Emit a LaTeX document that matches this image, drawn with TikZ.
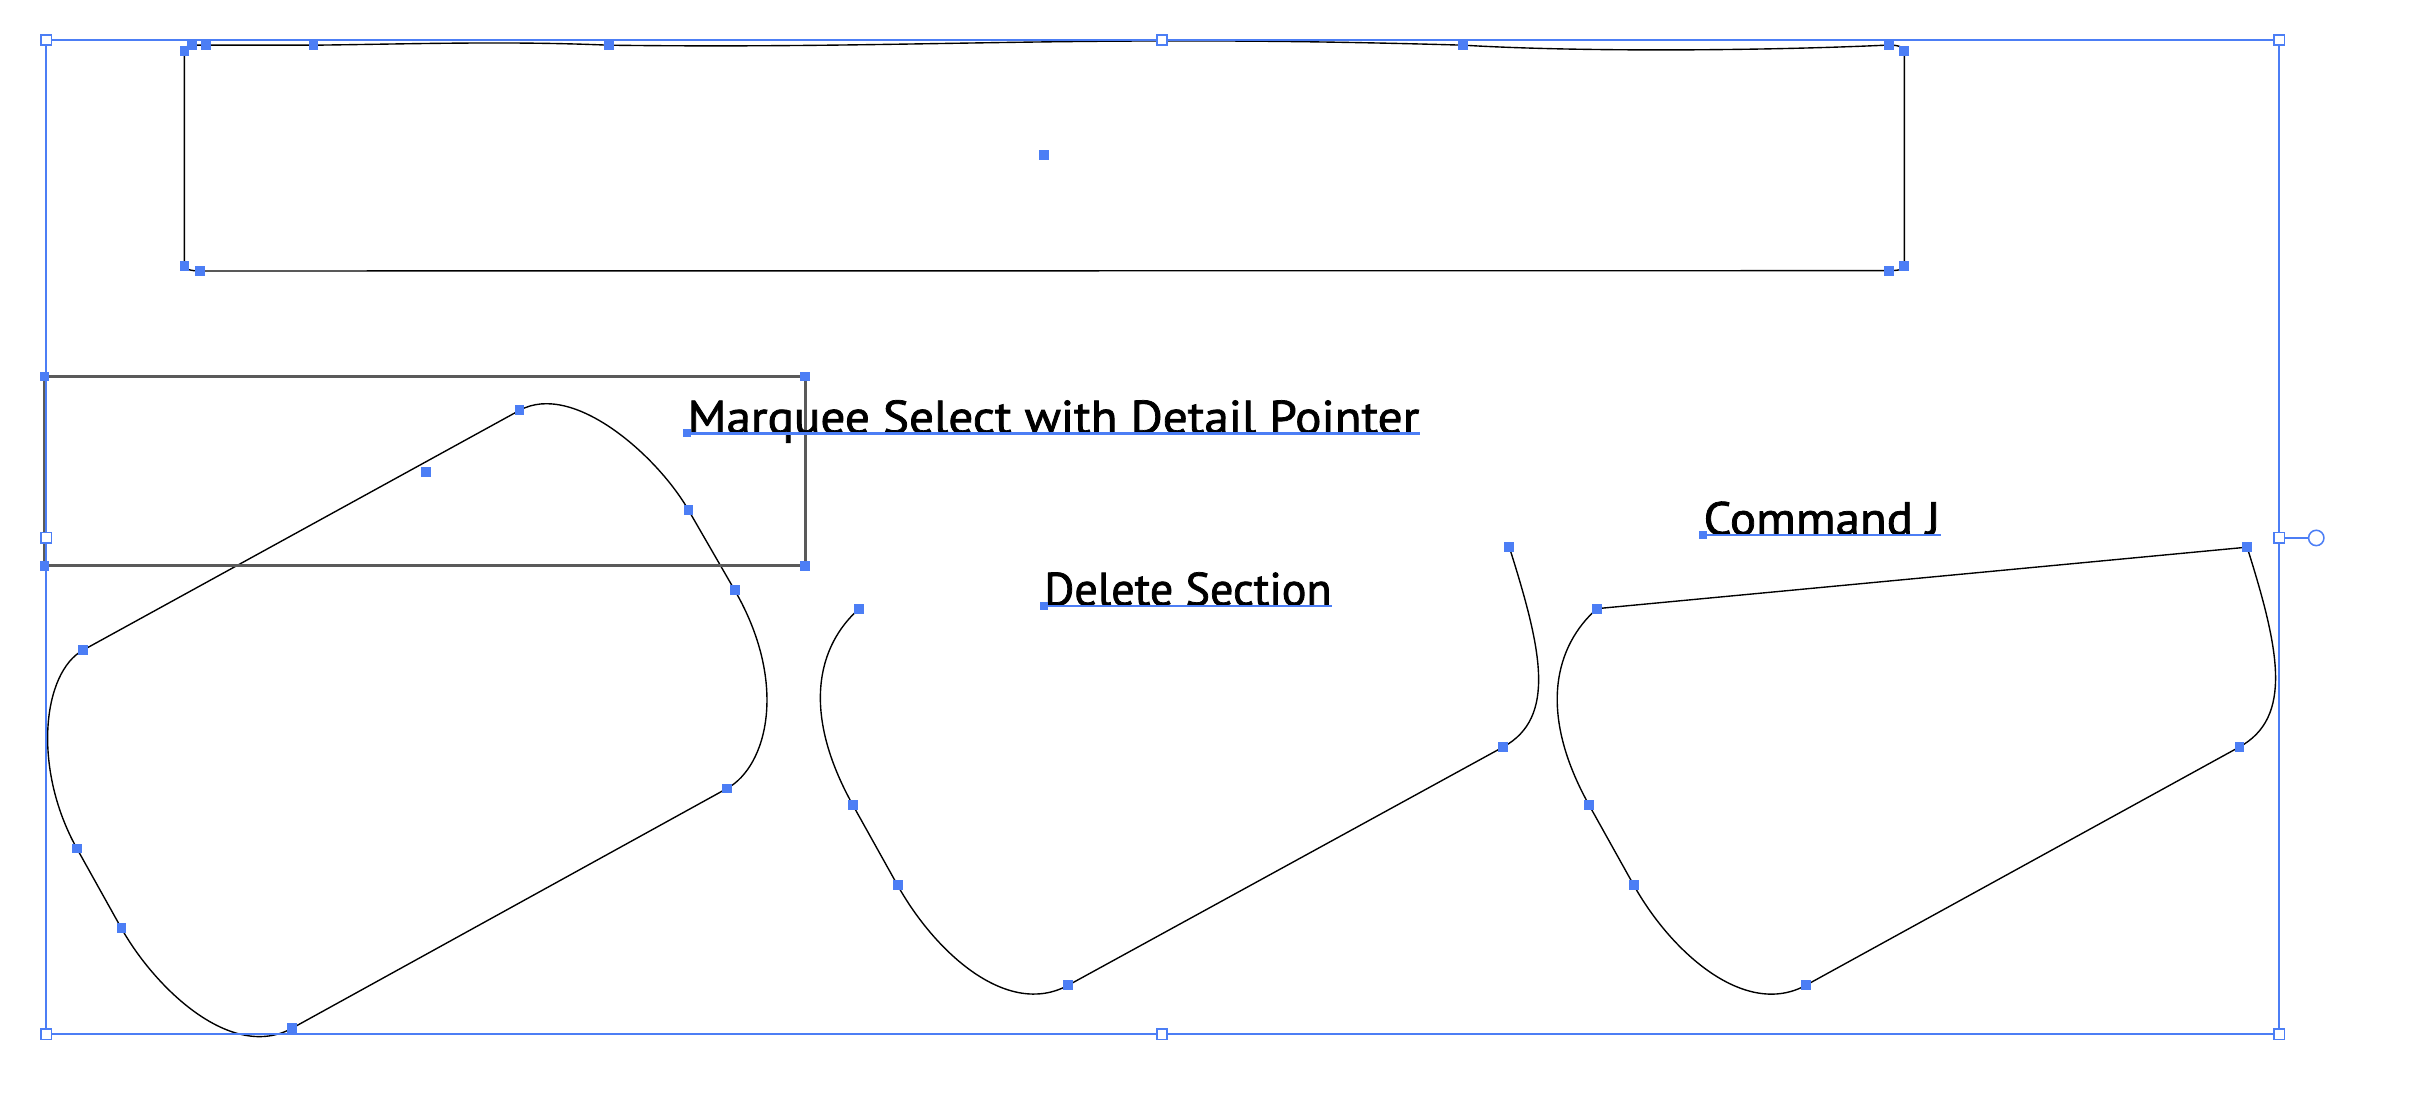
\documentclass[tikz,border=0pt]{standalone}
\usepackage{fontspec}
\setmainfont{PT Sans}
\newfontfamily\lblfont[FakeBold=1.6]{PT Sans}
\usepackage{graphicx}
\definecolor{selblue}{RGB}{76,126,245}
\definecolor{marq}{RGB}{90,90,90}
\begin{document}
\begin{tikzpicture}[x=0.5pt,y=-0.5pt,
  shapeline/.style={draw=black,line width=0.45pt},
  anc/.style={rectangle,fill=selblue,inner sep=0pt,minimum size=3.2pt},
  ancsmall/.style={rectangle,fill=selblue,inner sep=0pt,minimum size=2.6pt},
  handle/.style={rectangle,draw=selblue,fill=white,line width=0.5pt,inner sep=0pt,minimum size=3.4pt},
  bbox/.style={draw=selblue,line width=0.7pt},
  marquee/.style={draw=marq,line width=0.85pt},
  lbl/.style={inner sep=0pt,anchor=base west,text=black,font=\lblfont},
  baseln/.style={draw=selblue,line width=0.7pt}]
\useasboundingbox (0,0) rectangle (1568,722);

% ---------- coordinates ----------
% bounding box
\coordinate (bTL) at (30,26);  \coordinate (bT) at (756,26);  \coordinate (bTR) at (1483,26);
\coordinate (bL) at (30,350);  \coordinate (bR) at (1483,350);
\coordinate (bBL) at (30,673); \coordinate (bB) at (756,673); \coordinate (bBR) at (1483,673);
% marquee
\coordinate (mTL) at (29,245); \coordinate (mTR) at (524,245);
\coordinate (mBL) at (29,368); \coordinate (mBR) at (524,368);
% top rectangle
\coordinate (r1) at (120,33);   \coordinate (r2) at (125,29.4); \coordinate (r3) at (134,29.4);
\coordinate (r4) at (204,29.4); \coordinate (r5) at (396,29.4); \coordinate (r6) at (952,29.4);
\coordinate (r7) at (1229,29.3);\coordinate (r8) at (1239,33);  \coordinate (r9) at (1239,173);
\coordinate (r10) at (1229,176.1); \coordinate (r11) at (130,176.3); \coordinate (r12) at (120,173);
\coordinate (rc) at (679,101);
% shape 1
\coordinate (a1) at (338,267); \coordinate (a2) at (448,332); \coordinate (a3) at (478,384);
\coordinate (a4) at (473,513); \coordinate (a5) at (190,669); \coordinate (a6) at (79,604);
\coordinate (a7) at (50,552);  \coordinate (a8) at (54,423);  \coordinate (ac) at (277,307);
% shape 2
\coordinate (b1) at (559,396); \coordinate (b2) at (555,524); \coordinate (b3) at (584,576);
\coordinate (b4) at (695,641); \coordinate (b5) at (978,486); \coordinate (b6) at (982,356);
% shape 3
\coordinate (c1) at (1039,396); \coordinate (c2) at (1462,356); \coordinate (c3) at (1457,486);
\coordinate (c4) at (1175,641); \coordinate (c5) at (1063,576); \coordinate (c6) at (1034,524);

% ---------- black shapes ----------
\draw[shapeline] (r2) -- (r3) -- (r4)
  .. controls (270,28.6) and (330,26.6) .. (r5)
  .. controls (600,32) and (700,22) .. (r6)
  .. controls (1030,34) and (1150,33) .. (r7)
  .. controls (1235,29.2) and (1239,31) .. (r8) -- (r9)
  .. controls (1239,175) and (1236,176.1) .. (r10) -- (r11)
  .. controls (124,176.3) and (120,175) .. (r12) -- (r1)
  .. controls (120,31) and (122,29.4) .. (r2) -- cycle;

\draw[shapeline] (a1) .. controls (373,247.7) and (428,297) .. (a2) -- (a3)
  .. controls (513,444.6) and (499.3,498.5) .. (a4) -- (a5)
  .. controls (150.6,690.7) and (101,643) .. (a6) -- (a7)
  .. controls (20.8,499.6) and (27.7,437.5) .. (a8) -- cycle;

\draw[shapeline] (b1) .. controls (532,420) and (520.9,462.9) .. (b2) -- (b3)
  .. controls (608.4,619.7) and (655.5,662.6) .. (b4) -- (b5)
  .. controls (1013,466.8) and (1003,422.5) .. (b6);

\draw[shapeline] (c1) -- (c2) .. controls (1483,422.5) and (1492,466.7) .. (c3) -- (c4)
  .. controls (1135.6,662.7) and (1087.4,619.7) .. (c5) -- (c6)
  .. controls (999.9,462.9) and (1012,420) .. (c1) -- cycle;

% ---------- marquee ----------
\draw[marquee] (mTL) -- (mTR) -- (mBR) -- (mBL) -- cycle;

% ---------- bounding box ----------
\draw[bbox] (bTL) -- (bTR) -- (bBR) -- (bBL) -- cycle;
\node[circle,draw=selblue,fill=white,line width=0.5pt,inner sep=0pt,minimum size=5pt] (rot) at (1507,350) {};
\draw[bbox] (bR) -- (rot.west);

% ---------- texts ----------
\node[lbl] (t1) at (447,282) {\resizebox{238pt}{\height}{\fontsize{15.2}{18}\selectfont Marquee Select with Detail Pointer}};
\node[lbl] (t2) at (679,394) {\resizebox{93.5pt}{\height}{\fontsize{15.2}{18}\selectfont Delete Section}};
\node[lbl] (t3) at (1108,348) {\resizebox{77pt}{\height}{\fontsize{15.2}{18}\selectfont Command J}};
\draw[baseln] (t1.base west) -- (t1.base east);
\draw[baseln] (t2.base west) -- (t2.base east);
\draw[baseln] (t3.base west) -- (t3.base east);
\node[ancsmall] (t1a) at (t1.base west) {};
\node[ancsmall] (t2a) at (t2.base west) {};
\node[ancsmall] (t3a) at (t3.base west) {};

% ---------- anchor points ----------
\foreach \p in {r1,r2,r3,r4,r5,r6,r7,r8,r9,r10,r11,r12,rc,
                a1,a2,a3,a4,a5,a6,a7,a8,ac,
                b1,b2,b3,b4,b5,b6,
                c1,c2,c3,c4,c5,c6,
                mTL,mTR,mBL,mBR}
  \node[anc] (n\p) at (\p) {};

% ---------- bounding box handles ----------
\foreach \p in {bTL,bT,bTR,bL,bR,bBL,bB,bBR}
  \node[handle] (h\p) at (\p) {};
\end{tikzpicture}
\end{document}
